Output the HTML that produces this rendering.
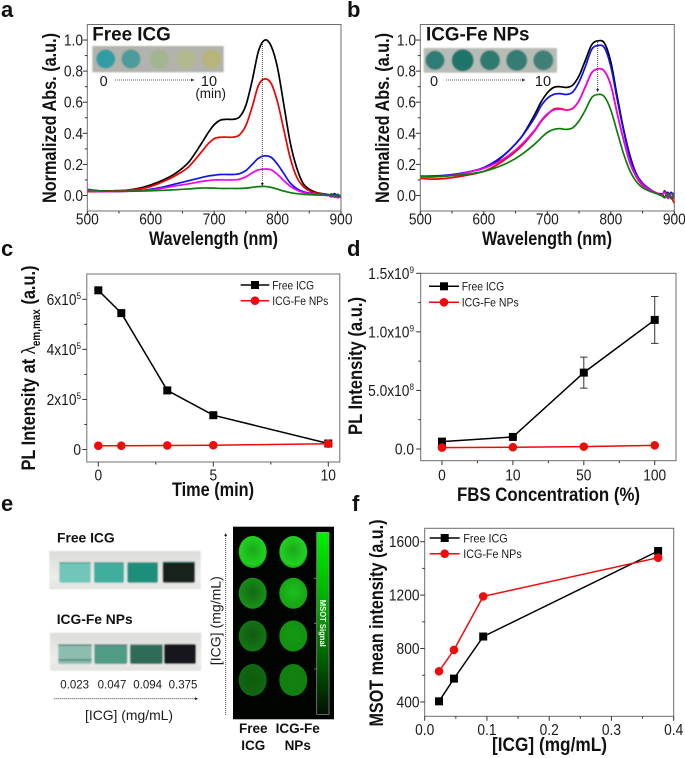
<!DOCTYPE html>
<html lang="en">
<head>
<meta charset="utf-8">
<title>ICG and ICG-Fe NPs figure</title>
<style>
html,body{margin:0;padding:0;background:#fff;}
body{width:685px;height:758px;overflow:hidden;}
svg{display:block;filter:blur(0.35px);}
text{font-family:"Liberation Sans",sans-serif;fill:#1a1a1a;}
.b{font-weight:bold;fill:#111;}
</style>
</head>
<body>
<svg id="fig" xmlns="http://www.w3.org/2000/svg" width="685" height="758" viewBox="0 0 685 758">
<defs>
<filter id="soft" x="-5%" y="-5%" width="110%" height="110%"><feGaussianBlur stdDeviation="0.7"/></filter>
<linearGradient id="cbar" x1="0" y1="0" x2="0" y2="1"><stop offset="0" stop-color="#00f000"/><stop offset="0.45" stop-color="#00a000"/><stop offset="1" stop-color="#021002"/></linearGradient>
<linearGradient id="vialbg" x1="0" y1="0" x2="0" y2="1"><stop offset="0" stop-color="#dcdcda"/><stop offset="0.7" stop-color="#ececea"/><stop offset="1" stop-color="#e2e3e0"/></linearGradient>
<radialGradient id="g1" cx="0.5" cy="0.45" r="0.6"><stop offset="0" stop-color="#1aa81a"/><stop offset="0.75" stop-color="#22d022"/><stop offset="1" stop-color="#118a11"/></radialGradient>
<radialGradient id="g2" cx="0.5" cy="0.45" r="0.6"><stop offset="0" stop-color="#116a11"/><stop offset="1" stop-color="#1a961a"/></radialGradient>
<radialGradient id="g3" cx="0.5" cy="0.45" r="0.6"><stop offset="0" stop-color="#1cc01c"/><stop offset="1" stop-color="#14a014"/></radialGradient>
<radialGradient id="g4" cx="0.5" cy="0.45" r="0.6"><stop offset="0" stop-color="#115a11"/><stop offset="1" stop-color="#157a15"/></radialGradient>
<radialGradient id="g5" cx="0.5" cy="0.45" r="0.6"><stop offset="0" stop-color="#159a15"/><stop offset="1" stop-color="#119011"/></radialGradient>
<radialGradient id="g6" cx="0.5" cy="0.5" r="0.6"><stop offset="0" stop-color="#0e5a0e"/><stop offset="1" stop-color="#116a11"/></radialGradient>
<radialGradient id="g7" cx="0.5" cy="0.5" r="0.6"><stop offset="0" stop-color="#128012"/><stop offset="1" stop-color="#108010"/></radialGradient>
<marker id="ah" markerWidth="5" markerHeight="5" refX="4" refY="2" orient="auto"><path d="M0 0L4 2L0 4Z" fill="#222"/></marker>
</defs>

<!-- Panel a inset -->
<g filter="url(#soft)">
<rect x="92.3" y="46" width="131.4" height="26.3" fill="#b2b3ad"/>
<circle cx="105.7" cy="59" r="9.5" fill="#2f9ea3"/>
<circle cx="131" cy="59" r="9.5" fill="#4b9c9a"/>
<circle cx="159.3" cy="59" r="9.5" fill="#a3b490"/>
<circle cx="185.7" cy="59" r="9.5" fill="#b3b98f"/>
<circle cx="211.7" cy="59" r="9.5" fill="#b7b47c"/>
</g>
<text class="b" x="92.3" y="40.7" font-size="19" textLength="78.5" lengthAdjust="spacingAndGlyphs">Free ICG</text>
<text x="103.7" y="86" font-size="14.5" text-anchor="middle">0</text>
<text x="209" y="86" font-size="14.5" text-anchor="middle">10</text>
<text x="210.7" y="98" font-size="13.5" text-anchor="middle">(min)</text>
<line x1="115" y1="80" x2="194" y2="80" stroke="#222" stroke-width="0.8" stroke-dasharray="1 1" marker-end="url(#ah)"/>

<!-- Panel b inset -->
<g filter="url(#soft)">
<rect x="423.7" y="48" width="133.3" height="24.7" fill="#b8bcb6"/>
<circle cx="435" cy="60.3" r="9.5" fill="#2f7c74"/>
<circle cx="462.7" cy="60.3" r="11" fill="#1f7468"/>
<circle cx="490" cy="60.3" r="10" fill="#2f7a6e"/>
<circle cx="516.7" cy="60.3" r="10.5" fill="#357c72"/>
<circle cx="543.3" cy="60.3" r="10" fill="#3f7f76"/>
</g>
<text class="b" x="426" y="40.7" font-size="19" textLength="103.5" lengthAdjust="spacingAndGlyphs">ICG-Fe NPs</text>
<text x="434" y="86" font-size="14.5" text-anchor="middle">0</text>
<text x="543" y="86" font-size="14.5" text-anchor="middle">10</text>
<line x1="446" y1="80" x2="525" y2="80" stroke="#222" stroke-width="0.8" stroke-dasharray="1 1" marker-end="url(#ah)"/>

<!-- Panel letters -->
<text class="b" x="1" y="17" font-size="22">a</text>
<text class="b" x="347" y="17" font-size="22">b</text>
<text class="b" x="1" y="256" font-size="22">c</text>
<text class="b" x="347" y="256" font-size="22">d</text>
<text class="b" x="1" y="511" font-size="22">e</text>
<text class="b" x="352" y="511" font-size="22">f</text>

<!-- Panel e vials -->
<text class="b" x="57" y="542.3" font-size="14" textLength="57.7" lengthAdjust="spacingAndGlyphs">Free ICG</text>
<g filter="url(#soft)">
<rect x="49.3" y="551" width="151.4" height="38.3" fill="url(#vialbg)"/>
<rect x="59.3" y="562.7" width="31.4" height="20" rx="2" fill="#72c6b9"/>
<rect x="94" y="562.7" width="30" height="20" rx="2" fill="#41ad9d"/>
<rect x="127.3" y="562.7" width="30.7" height="20" rx="2" fill="#1b8f7c"/>
<rect x="162.7" y="562" width="32.3" height="20.7" rx="2" fill="#15211f"/>
<path d="M59.3 562.7h31.4M94 562.7h30M127.3 562.7h30.7M162.7 562h32.3" stroke="#2a8a7c" stroke-width="1" fill="none"/>
</g>
<text class="b" x="56.7" y="624" font-size="14" textLength="76" lengthAdjust="spacingAndGlyphs">ICG-Fe NPs</text>
<g filter="url(#soft)">
<rect x="50" y="632.7" width="151.3" height="38" fill="url(#vialbg)"/>
<rect x="58.3" y="645" width="33.4" height="19" rx="2" fill="#8cbdaf"/>
<rect x="94.3" y="645" width="33" height="19" rx="2" fill="#4f9b86"/>
<rect x="130" y="645" width="32.7" height="19" rx="2" fill="#2f6c59"/>
<rect x="164" y="644" width="32" height="20" rx="2" fill="#16191d"/>
<path d="M58.3 645h33.4M94.3 645h33M130 645h32.7M58.3 660h33.4" stroke="#3f7567" stroke-width="1.2" fill="none"/>
</g>
<text x="74.7" y="688.3" font-size="11.5" text-anchor="middle">0.023</text>
<text x="112" y="688.3" font-size="11.5" text-anchor="middle">0.047</text>
<text x="147.7" y="688.3" font-size="11.5" text-anchor="middle">0.094</text>
<text x="183" y="688.3" font-size="11.5" text-anchor="middle">0.375</text>
<line x1="54.3" y1="698.7" x2="198" y2="698.7" stroke="#222" stroke-width="0.8" stroke-dasharray="1 1" marker-end="url(#ah)"/>
<text x="129" y="720" font-size="14" text-anchor="middle" textLength="88" lengthAdjust="spacingAndGlyphs">[ICG] (mg/mL)</text>

<!-- Panel e MSOT -->
<line x1="225.7" y1="715" x2="225.7" y2="533" stroke="#222" stroke-width="0.8" stroke-dasharray="1 1" marker-end="url(#ah)"/>
<text transform="rotate(-90 220.3 620.7)" x="220.3" y="620.7" font-size="14" text-anchor="middle" textLength="89" lengthAdjust="spacingAndGlyphs">[ICG] (mg/mL)</text>
<rect x="233" y="526.7" width="101" height="192.6" fill="#020402"/>
<ellipse cx="252.7" cy="552" rx="14" ry="16" fill="url(#g1)"/>
<ellipse cx="293.3" cy="552" rx="14" ry="16" fill="url(#g1)"/>
<ellipse cx="252.7" cy="593.3" rx="14" ry="15.5" fill="url(#g2)"/>
<ellipse cx="293.3" cy="593.3" rx="14" ry="15.5" fill="url(#g3)"/>
<ellipse cx="252.7" cy="636" rx="14" ry="15.5" fill="url(#g4)"/>
<ellipse cx="293.3" cy="636" rx="14" ry="15.5" fill="url(#g5)"/>
<ellipse cx="252.7" cy="680" rx="14" ry="16" fill="url(#g6)"/>
<ellipse cx="293.3" cy="680" rx="14" ry="16" fill="url(#g7)"/>
<rect x="316.7" y="532.3" width="12.3" height="182" fill="url(#cbar)" stroke="#999" stroke-width="0.7"/>
<path d="M314 578.3h3M314 623.3h3M314 669h3" stroke="#888" stroke-width="0.8"/>
<text transform="rotate(90 320 623.3)" x="320" y="623.3" font-size="8.5" font-weight="bold" text-anchor="middle" style="fill:#fff" textLength="47" lengthAdjust="spacingAndGlyphs">MSOT Signal</text>
<text class="b" x="253.3" y="733" font-size="13.5" text-anchor="middle">Free</text>
<text class="b" x="253.3" y="750" font-size="13.5" text-anchor="middle">ICG</text>
<text class="b" x="297.7" y="733" font-size="13.5" text-anchor="middle">ICG-Fe</text>
<text class="b" x="297.7" y="750" font-size="13.5" text-anchor="middle">NPs</text>

<g id="charts"></g>
</svg>

<script>
// ---- Panels a/b data ----
const wavelengths = [500,520,540,560,580,600,620,640,660,680,690,700,710,720,730,740,750,760,770,780,790,800,810,820,830,840,850,860,870,880,885,890,895,900];
const aBlack   = [.03,.03,.03,.033,.045,.068,.10,.145,.215,.335,.40,.455,.485,.49,.49,.505,.58,.74,.93,1.0,.96,.82,.58,.34,.18,.08,.04,.02,.012,.005,.0,.01,-.005,0];
const aRed     = [.025,.025,.03,.033,.04,.058,.09,.13,.185,.28,.33,.365,.375,.375,.375,.39,.45,.57,.71,.75,.72,.6,.42,.24,.12,.06,.03,.015,.01,.005,.0,.005,-.01,0];
const aBlue    = [.03,.025,.025,.027,.03,.04,.055,.075,.095,.115,.125,.13,.135,.135,.135,.14,.16,.2,.24,.255,.245,.2,.14,.08,.045,.025,.015,.01,.005,.005,.0,.012,-.005,0];
const aMagenta = [.03,.025,.025,.027,.03,.035,.048,.062,.075,.09,.095,.1,.1,.1,.1,.105,.12,.145,.165,.17,.165,.135,.095,.06,.035,.02,.012,.008,.003,.0,-.01,.0,-.015,-.005];
const aGreen   = [.04,.03,.027,.027,.028,.03,.033,.037,.042,.048,.048,.047,.045,.045,.045,.045,.047,.052,.057,.058,.052,.04,.028,.018,.012,.008,.005,.003,.002,.0,.01,-.012,.008,-.015];
const bBlack   = [.12,.12,.125,.135,.155,.175,.22,.29,.38,.52,.60,.66,.695,.70,.695,.71,.77,.87,.97,.995,.98,.86,.64,.43,.26,.14,.07,.04,.015,.01,-.01,.02,-.02,-.01];
const bRed     = [.11,.105,.11,.12,.135,.155,.195,.25,.32,.415,.475,.52,.555,.56,.55,.56,.61,.70,.79,.815,.80,.71,.53,.36,.21,.12,.065,.04,.02,.005,-.01,.01,-.01,-.05];
const bBlue    = [.125,.125,.13,.14,.155,.18,.225,.29,.38,.50,.575,.625,.65,.655,.65,.665,.73,.83,.94,.965,.95,.83,.62,.42,.25,.14,.08,.045,.02,.0,.03,-.01,.02,-.01];
const bMagenta = [.12,.12,.125,.135,.155,.175,.21,.26,.33,.42,.48,.525,.55,.555,.55,.56,.61,.70,.79,.815,.80,.71,.53,.36,.215,.125,.07,.04,.02,.005,.02,-.02,.01,-.02];
const bGreen   = [.125,.12,.125,.13,.14,.155,.18,.215,.265,.33,.37,.405,.425,.43,.425,.435,.48,.55,.63,.65,.635,.55,.41,.27,.16,.09,.05,.03,.015,.0,-.015,.015,-.02,.02];
const specXTicks = [500,600,700,800,900];
const specXLabels = ['500','600','700','800','900'];
const specXMinor = [550,650,750,850];
const specYTicks = [0,.2,.4,.6,.8,1];
const specYLabels = ['0.0','0.2','0.4','0.6','0.8','1.0'];
const specYMinor = [.1,.3,.5,.7,.9];

// ---- Panel c data ----
const cTimes = [0,1,3,5,10];
const cFree = [6.36e5,5.45e5,2.36e5,1.37e5,.24e5];
const cFe = [.15e5,.15e5,.16e5,.17e5,.23e5];
const cXTicks = [0,5,10];
const cXLabels = ['0','5','10'];
const cXMinor = [2.5,7.5];
const cYTicks = [0,2e5,4e5,6e5];
const cYLabels = ['0','2x10^5','4x10^5','6x10^5'];
const cYMinor = [1e5,3e5,5e5];

// ---- Panel d data ----
const dCategories = ['0','10','50','100'];
const dFree = [.63e8,1.03e8,6.52e8,11.02e8];
const dFreeErr = [0,0,1.32e8,2e8];
const dFe = [.12e8,.15e8,.2e8,.31e8];
const dYTicks = [0,5e8,1e9,1.5e9];
const dYLabels = ['0.0','5.0x10^8','1.0x10^9','1.5x10^9'];
const dYMinor = [2.5e8,7.5e8,1.25e9];
const dXMinor = [.5,1.5,2.5];

// ---- Panel f data ----
const fConc = [.023,.047,.094,.375];
const fFree = [405,575,890,1530];
const fFe = [630,790,1190,1480];
const fXTicks = [0,.1,.2,.3,.4];
const fXLabels = ['0.0','0.1','0.2','0.3','0.4'];
const fXMinor = [.05,.15,.25,.35];
const fYTicks = [400,800,1200,1600];
const fYLabels = ['400','800','1200','1600'];
const fYMinor = [600,1000,1400];

const NS = 'http://www.w3.org/2000/svg';
const root = document.getElementById('charts');

function mk(tag, parent, attrs) {
  const n = document.createElementNS(NS, tag);
  for (const k in attrs) n.setAttribute(k, attrs[k]);
  parent.appendChild(n);
  return n;
}
function linear(d0, d1, r0, r1) {
  return function (v) { return r0 + (v - d0) * (r1 - r0) / (d1 - d0); };
}
function panelGroup(name) {
  const el = mk('g', root, {});
  
  
  return el;
}
function frame(g, x0, y0, x1, y1) {
  const el = mk('rect', g, {x: x0, y: y0, width: x1 - x0, height: y1 - y0, fill: 'none', stroke: '#6e6e6e', 'stroke-width': 1});
  
  
}
function tick(g, x1, y1, x2, y2, name) {
  const el = mk('line', g, {x1, y1, x2, y2, stroke: '#333', 'stroke-width': 1});
  
  
}
function tickLabel(g, label, x, y, anchor, name) {
  const parts = label.split('^');
  const el = mk('text', g, {transform: 'translate(' + x + ',' + y + ') scale(.86,1)', 'font-size': 16, 'text-anchor': anchor});
  
  
  el.appendChild(document.createTextNode(parts[0]));
  if (parts[1]) {
    const sup = mk('tspan', el, {dy: -6, 'font-size': 9.5});
    sup.textContent = parts[1];
  }
}
function boldText(g, str, x, y, size, len, rotated, name) {
  const attrs = {x, y, 'font-size': size, 'text-anchor': 'middle', 'font-weight': 'bold', textLength: len, lengthAdjust: 'spacingAndGlyphs'};
  if (rotated) attrs.transform = 'rotate(-90 ' + x + ' ' + y + ')';
  const el = mk('text', g, attrs);
  el.setAttribute('class', 'b');
  
  
  el.textContent = str;
  return el;
}
function xAxis(g, sx, y1, ticks, labels, minor, baseline) {
  ticks.forEach(function (t, i) {
    tick(g, sx(t), y1, sx(t), y1 + 4.5, 'x-tick');
    tickLabel(g, labels[i], sx(t), baseline, 'middle', 'x-tick-label');
  });
  minor.forEach(function (t) { tick(g, sx(t), y1, sx(t), y1 + 2.5, 'x-minor-tick'); });
}
function yAxis(g, sy, x0, ticks, labels, minor, labelRight) {
  ticks.forEach(function (t, i) {
    tick(g, x0 - 4.5, sy(t), x0, sy(t), 'y-tick');
    tickLabel(g, labels[i], labelRight, sy(t) + 5.5, 'end', 'y-tick-label');
  });
  minor.forEach(function (t) { tick(g, x0 - 2.5, sy(t), x0, sy(t), 'y-minor-tick'); });
}
function smoothPath(pts) {
  let d = 'M' + pts[0][0].toFixed(2) + ' ' + pts[0][1].toFixed(2);
  for (let i = 0; i < pts.length - 1; i++) {
    const p0 = pts[Math.max(i - 1, 0)], p1 = pts[i], p2 = pts[i + 1], p3 = pts[Math.min(i + 2, pts.length - 1)];
    const c1x = p1[0] + (p2[0] - p0[0]) / 6, c1y = p1[1] + (p2[1] - p0[1]) / 6;
    const c2x = p2[0] - (p3[0] - p1[0]) / 6, c2y = p2[1] - (p3[1] - p1[1]) / 6;
    d += 'C' + c1x.toFixed(2) + ' ' + c1y.toFixed(2) + ' ' + c2x.toFixed(2) + ' ' + c2y.toFixed(2) + ' ' + p2[0].toFixed(2) + ' ' + p2[1].toFixed(2);
  }
  return d;
}
function spectrum(g, xs, ys, sx, sy, color, name) {
  const pts = xs.map(function (x, i) { return [sx(x), sy(ys[i])]; });
  const el = mk('path', g, {d: smoothPath(pts), fill: 'none', stroke: color, 'stroke-width': 1.7, 'stroke-linejoin': 'round'});
  
  
}
function dottedArrow(g, x, y1, y2) {
  const el = mk('line', g, {x1: x, y1, x2: x, y2, stroke: '#222', 'stroke-width': .8, 'stroke-dasharray': '1 1', 'marker-end': 'url(#ah)'});
  
  
}
function marker(g, x, y, kind, name) {
  let el;
  if (kind === 'square') {
    el = mk('rect', g, {x: x - 4, y: y - 4, width: 8, height: 8, fill: '#000'});
  } else {
    el = mk('circle', g, {cx: x, cy: y, r: 4.3, fill: '#f00a0a'});
  }
  
  
}
function lineSeries(g, xs, ys, sx, sy, color, kind, name) {
  const pts = xs.map(function (x, i) { return sx(x).toFixed(2) + ',' + sy(ys[i]).toFixed(2); }).join(' ');
  const el = mk('polyline', g, {points: pts, fill: 'none', stroke: color, 'stroke-width': 1.5});
  
  
  xs.forEach(function (x, i) { marker(g, sx(x), sy(ys[i]), kind, name + '-point'); });
}
function legendEntry(g, x0, x1, y, textX, textLen, color, kind, label, name) {
  const el = mk('line', g, {x1: x0, y1: y, x2: x1, y2: y, stroke: color, 'stroke-width': 1.5});
  
  
  marker(g, (x0 + x1) / 2, y, kind, name + '-marker');
  const t = mk('text', g, {x: textX, y: y + 4.3, 'font-size': 12, textLength: textLen, lengthAdjust: 'spacingAndGlyphs'});
  
  
  t.textContent = label;
}

// Panel a
(function () {
  const g = panelGroup('panel-a-absorbance-free-icg');
  const sx = linear(500, 900, 87.3, 341), sy = linear(-.1, 1.1, 211, 24.5);
  spectrum(g, wavelengths, aBlack, sx, sy, '#000', 'curve-0-min');
  spectrum(g, wavelengths, aRed, sx, sy, '#f00000', 'curve-1-min');
  spectrum(g, wavelengths, aBlue, sx, sy, '#1010f0', 'curve-3-min');
  spectrum(g, wavelengths, aMagenta, sx, sy, '#f000f0', 'curve-5-min');
  spectrum(g, wavelengths, aGreen, sx, sy, '#0a7d0a', 'curve-10-min');
  dottedArrow(g, 262.3, 42, 186);
  frame(g, 87.3, 24.5, 341, 211);
  xAxis(g, sx, 211, specXTicks, specXLabels, specXMinor, 224.5);
  yAxis(g, sy, 87.3, specYTicks, specYLabels, specYMinor, 83);
  boldText(g, 'Wavelength (nm)', 213.5, 245, 19, 129, false, 'x-axis-title');
  boldText(g, 'Normalized Abs. (a.u.)', 56, 118, 19, 170, true, 'y-axis-title');
})();

// Panel b
(function () {
  const g = panelGroup('panel-b-absorbance-icg-fe');
  const sx = linear(500, 900, 420.3, 674.3), sy = linear(-.1, 1.1, 211, 24.5);
  spectrum(g, wavelengths, bBlack, sx, sy, '#000', 'curve-0-min');
  spectrum(g, wavelengths, bBlue, sx, sy, '#1010f0', 'curve-1-min');
  spectrum(g, wavelengths, bRed, sx, sy, '#f00000', 'curve-3-min');
  spectrum(g, wavelengths, bMagenta, sx, sy, '#f000f0', 'curve-5-min');
  spectrum(g, wavelengths, bGreen, sx, sy, '#0a7d0a', 'curve-10-min');
  dottedArrow(g, 597.7, 42, 92);
  frame(g, 420.3, 24.5, 674.3, 211);
  xAxis(g, sx, 211, specXTicks, specXLabels, specXMinor, 224.5);
  yAxis(g, sy, 420.3, specYTicks, specYLabels, specYMinor, 416);
  boldText(g, 'Wavelength (nm)', 547, 245, 19, 130, false, 'x-axis-title');
  boldText(g, 'Normalized Abs. (a.u.)', 389, 118, 19, 170, true, 'y-axis-title');
})();

// Panel c
(function () {
  const g = panelGroup('panel-c-pl-vs-time');
  const sx = linear(-.5, 10.5, 86.8, 339.8), sy = linear(-.5e5, 7e5, 462, 274.3);
  frame(g, 86.8, 274, 339.8, 462);
  xAxis(g, sx, 462, cXTicks, cXLabels, cXMinor, 480.7);
  yAxis(g, sy, 86.8, cYTicks, cYLabels, cYMinor, 81);
  lineSeries(g, cTimes, cFree, sx, sy, '#000', 'square', 'free-icg');
  lineSeries(g, cTimes, cFe, sx, sy, '#f00a0a', 'circle', 'icg-fe-nps');
  legendEntry(g, 240.7, 269.3, 285, 272.3, 41.7, '#000', 'square', 'Free ICG', 'legend-free-icg');
  legendEntry(g, 240.7, 269.3, 300.7, 272.3, 56, '#f00a0a', 'circle', 'ICG-Fe NPs', 'legend-icg-fe-nps');
  boldText(g, 'Time (min)', 213, 496, 19, 82, false, 'x-axis-title');
  const t = mk('text', g, {x: 35, y: 368, transform: 'rotate(-90 35 368)', 'font-size': 19, 'font-weight': 'bold', 'text-anchor': 'middle', textLength: 205, lengthAdjust: 'spacingAndGlyphs'});
  t.setAttribute('class', 'b');
  
  
  t.appendChild(document.createTextNode('PL Intensity at '));
  const lam = mk('tspan', t, {'font-weight': 'normal'});
  lam.textContent = 'λ';
  const sub = mk('tspan', t, {dy: 5, 'font-size': 11.5});
  sub.textContent = 'em,max';
  const end = mk('tspan', t, {dy: -5});
  end.textContent = ' (a.u.)';
})();

// Panel d
(function () {
  const g = panelGroup('panel-d-pl-vs-fbs');
  const sx = linear(-.3, 3.3, 420.7, 676), sy = linear(-.1e9, 1.5e9, 460.7, 273.3);
  const idx = dCategories.map(function (c, i) { return i; });
  frame(g, 420.7, 273.3, 676, 460.7);
  xAxis(g, sx, 460.7, idx, dCategories, dXMinor, 480.7);
  yAxis(g, sy, 420.7, dYTicks, dYLabels, dYMinor, 414);
  dFreeErr.forEach(function (e, i) {
    if (!e) return;
    const x = sx(i), top = sy(dFree[i] + e), bot = sy(dFree[i] - e);
    const el = mk('path', g, {d: 'M' + x + ' ' + top + 'V' + bot + 'M' + (x - 3.7) + ' ' + top + 'h7.4M' + (x - 3.7) + ' ' + bot + 'h7.4', fill: 'none', stroke: '#333', 'stroke-width': 1});
    
    
  });
  lineSeries(g, idx, dFree, sx, sy, '#000', 'square', 'free-icg');
  lineSeries(g, idx, dFe, sx, sy, '#f00a0a', 'circle', 'icg-fe-nps');
  legendEntry(g, 429, 459, 286.3, 461.7, 42.5, '#000', 'square', 'Free ICG', 'legend-free-icg');
  legendEntry(g, 429, 459, 302.3, 461.7, 57, '#f00a0a', 'circle', 'ICG-Fe NPs', 'legend-icg-fe-nps');
  boldText(g, 'FBS Concentration (%)', 548.5, 501, 19, 183, false, 'x-axis-title');
  boldText(g, 'PL Intensity (a.u.)', 362, 366, 19, 138, true, 'y-axis-title');
})();

// Panel f
(function () {
  const g = panelGroup('panel-f-msot-intensity');
  const sx = linear(0, .4, 424.7, 673.7), sy = linear(293, 1700, 716.3, 528.3);
  frame(g, 424.7, 528.3, 673.7, 716.3);
  xAxis(g, sx, 716.3, fXTicks, fXLabels, fXMinor, 735);
  yAxis(g, sy, 424.7, fYTicks, fYLabels, fYMinor, 419.5);
  lineSeries(g, fConc, fFree, sx, sy, '#000', 'square', 'free-icg');
  lineSeries(g, fConc, fFe, sx, sy, '#f00a0a', 'circle', 'icg-fe-nps');
  legendEntry(g, 429.7, 459.7, 538, 463.3, 44.4, '#000', 'square', 'Free ICG', 'legend-free-icg');
  legendEntry(g, 429.7, 459.7, 553.7, 463.3, 58.4, '#f00a0a', 'circle', 'ICG-Fe NPs', 'legend-icg-fe-nps');
  boldText(g, '[ICG] (mg/mL)', 549.5, 751, 19, 115, false, 'x-axis-title');
  boldText(g, 'MSOT mean intensity (a.u.)', 383, 623, 19, 207, true, 'y-axis-title');
})();
</script>
</body>
</html>
